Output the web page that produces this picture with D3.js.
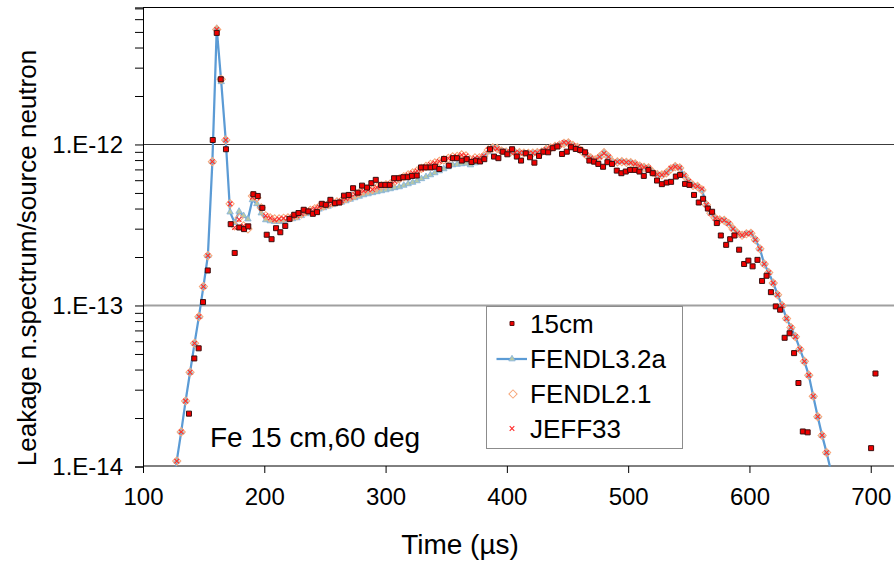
<!DOCTYPE html>
<html><head><meta charset="utf-8">
<script src="https://cdn.jsdelivr.net/npm/d3@7"></script>
<style>body{margin:0;background:#fff;} svg{display:block;font-family:"Liberation Sans",Arial,sans-serif;}</style>
</head><body><svg id="c" width="894" height="565"></svg>
<script>
// values are in units of 1e-13 (n/source neutron)
const UNIT = 1e-13;
const simTime = [124.1,127.8,131.5,135.1,138.8,142.5,146.1,149.8,153.5,157.2,
160.8,164.5,168.2,171.8,175.5,179.2,182.9,186.5,190.2,193.9,
197.5,201.2,204.9,208.5,212.2,215.9,219.5,223.2,226.9,230.6,
234.2,237.9,241.6,245.2,248.9,252.6,256.2,259.9,263.6,267.3,
270.9,274.6,278.3,281.9,285.6,289.3,292.9,296.6,300.3,303.9,
307.6,311.3,315.0,318.6,322.3,326.0,329.6,333.3,337.0,340.6,
344.3,348.0,351.7,355.3,359.0,362.7,366.3,370.0,373.7,377.3,
381.0,384.7,388.4,392.0,395.7,399.4,403.0,406.7,410.4,414.0,
417.7,421.4,425.1,428.7,432.4,436.1,439.7,443.4,447.1,450.7,
454.4,458.1,461.8,465.4,469.1,472.8,476.4,480.1,483.8,487.4,
491.1,494.8,498.5,502.1,505.8,509.5,513.1,516.8,520.5,524.1,
527.8,531.5,535.2,538.8,542.5,546.2,549.8,553.5,557.2,560.8,
564.5,568.2,571.9,575.5,579.2,582.9,586.5,590.2,593.9,597.5,
601.2,604.9,608.6,612.2,615.9,619.6,623.2,626.9,630.6,634.2,
637.9,641.6,645.3,648.9,652.6,656.3,659.9,663.6,667.3];

const fendl32a = [0.072,0.108,0.164,0.255,0.385,0.582,0.852,1.31,2.04,7.82,
52.5,24.5,10.66,3.80,3.27,3.84,3.61,3.44,4.53,4.28,
3.75,3.40,3.35,3.32,3.32,3.35,3.40,3.45,3.50,3.61,
3.71,3.79,3.88,3.96,4.04,4.13,4.22,4.31,4.37,4.46,
4.56,4.66,4.76,4.86,4.93,5.01,5.08,5.15,5.22,5.30,
5.38,5.45,5.57,5.69,5.81,5.94,6.12,6.30,6.47,6.66,
6.85,7.05,7.26,7.46,7.52,7.57,7.63,7.46,7.68,8.02,
8.37,8.98,9.52,9.45,9.11,8.98,8.98,8.91,8.89,8.85,
8.81,8.85,8.89,8.98,9.32,9.52,9.73,9.93,10.15,10.22,
9.86,9.59,9.11,8.61,8.25,8.02,8.37,8.89,8.37,7.74,
7.79,7.82,7.74,7.71,7.57,7.35,7.21,7.15,6.70,6.51,
6.47,6.66,7.05,7.29,7.15,6.42,5.90,5.57,5.49,5.22,
4.22,3.74,3.48,3.40,3.38,3.23,2.99,2.81,2.73,2.79,
2.81,2.56,2.25,1.81,1.60,1.38,1.166,0.997,0.829,0.730,
0.640,0.535,0.450,0.369,0.273,0.204,0.156,0.122,0.093];

const fendl21 = [0.072,0.108,0.164,0.255,0.385,0.582,0.852,1.31,2.04,7.82,
51.8,25.4,10.66,4.28,3.12,3.5,3.12,2.99,4.79,4.66,
4.04,3.61,3.50,3.45,3.45,3.48,3.50,3.55,3.61,3.71,
3.82,3.90,3.99,4.10,4.16,4.25,4.34,4.40,4.46,4.60,
4.70,4.84,5.01,5.15,5.22,5.26,5.41,5.53,5.61,5.69,
5.90,6.12,6.30,6.47,6.66,6.85,7.10,7.31,7.52,7.68,
7.85,8.02,8.19,8.37,8.43,8.61,8.49,8.02,8.25,8.25,
8.49,9.25,9.52,9.45,9.11,8.98,8.98,8.91,8.89,8.85,
8.81,8.85,8.89,8.98,9.32,9.52,9.73,9.93,10.15,10.22,
9.86,9.59,9.11,8.61,8.25,8.02,8.37,8.89,8.37,7.74,
7.79,7.82,7.74,7.71,7.57,7.35,7.21,7.15,6.70,6.51,
6.47,6.66,7.05,7.29,7.15,6.42,5.90,5.57,5.49,5.22,
4.22,3.74,3.48,3.40,3.38,3.23,2.99,2.81,2.73,2.79,
2.81,2.56,2.25,1.81,1.60,1.38,1.166,0.997,0.829,0.730,
0.640,0.535,0.450,0.369,0.273,0.204,0.156,0.122,0.093];

const jeff33 = [0.072,0.108,0.164,0.255,0.385,0.582,0.852,1.31,2.04,7.82,
51.8,25.4,10.66,4.28,3.05,3.42,3.12,3.05,4.70,4.66,
4.04,3.61,3.50,3.40,3.45,3.48,3.50,3.55,3.61,3.71,
3.82,3.90,3.99,4.10,4.16,4.25,4.34,4.40,4.46,4.60,
4.70,4.90,5.01,5.15,5.22,5.26,5.41,5.53,5.61,5.69,
5.90,6.12,6.30,6.47,6.66,6.85,7.02,7.31,7.52,7.68,
7.85,8.02,8.19,8.37,8.43,8.61,8.49,8.02,8.25,8.25,
8.49,9.25,9.52,9.40,9.11,8.98,8.98,8.91,8.89,8.85,
8.81,8.85,8.89,8.98,9.32,9.52,9.73,9.93,10.3,10.22,
9.86,9.59,9.11,8.61,8.25,8.02,8.37,8.80,8.37,7.74,
7.79,7.82,7.74,7.71,7.57,7.35,7.21,7.15,6.70,6.51,
6.47,6.66,7.12,7.29,7.15,6.42,5.90,5.57,5.49,5.30,
4.22,3.74,3.48,3.40,3.38,3.23,2.99,2.81,2.73,2.79,
2.81,2.56,2.25,1.81,1.60,1.38,1.166,0.997,0.829,0.730,
0.640,0.535,0.450,0.369,0.273,0.204,0.156,0.122,0.093];

const expTime = [137.9,142.3,145.9,149.5,153.4,157.5,160.8,164.1,168.4,172.3,
175.6,179.4,183.3,186.8,191.0,194.6,198.4,202.0,206.0,209.7,
213.2,217.3,220.8,224.7,228.2,232.5,236.3,240.0,243.5,247.4,
250.7,254.5,258.3,261.9,265.7,269.6,273.2,277.0,280.6,284.7,
288.3,291.9,296.3,299.8,303.4,307.0,310.9,314.6,318.3,321.8,
325.7,329.2,333.1,337.2,340.8,344.3,348.2,352.1,355.6,358.9,
362.8,366.9,370.9,374.6,377.9,381.4,386.1,389.4,393.0,396.6,
400.4,404.3,408.2,411.7,415.6,419.1,422.7,426.5,430.1,434.0,
437.8,441.6,445.5,449.4,452.9,456.8,460.4,464.5,468.0,471.9,
475.4,479.3,482.9,486.7,490.6,494.4,498.0,501.6,505.5,509.3,
512.9,516.7,520.3,523.8,527.8,531.8,535.4,539.3,542.8,546.9,
550.5,554.3,558.2,561.8,565.7,569.2,573.1,576.4,580.8,584.1,
587.6,591.5,595.6,599.1,602.6,606.6,610.4,614.1,617.7,621.7,
625.3,629.0,633.1,636.8,640.4,644.0,648.0,700.3,703.9];

const expValue = [0.213,0.469,0.542,1.05,1.65,10.66,49.3,25.4,9.34,3.20,
2.12,3.05,2.98,3.10,4.91,4.79,4.04,2.75,2.58,3.02,
2.85,3.12,3.45,3.66,3.75,3.93,3.84,3.71,3.80,4.28,
4.22,4.53,4.32,4.36,4.81,4.86,5.35,5.02,5.55,5.40,
5.75,6.03,5.61,5.61,5.61,6.17,6.17,6.26,6.26,6.38,
6.41,7.20,7.20,7.20,7.27,7.04,8.13,7.39,8.22,8.22,
7.94,8.10,7.79,7.94,7.84,8.10,9.34,8.41,8.22,9.02,
8.69,9.34,8.41,7.94,8.81,8.33,7.71,8.49,9.02,8.94,
9.48,9.71,8.73,9.02,9.61,9.38,9.25,8.94,7.94,7.82,
7.57,7.27,7.76,7.57,6.88,6.63,6.79,6.95,6.95,6.79,
6.38,6.95,6.63,5.97,5.67,5.80,5.86,6.32,6.47,5.69,
5.61,4.86,4.36,4.60,4.00,3.82,3.25,2.72,2.38,2.58,
2.72,2.22,1.81,1.90,1.75,1.92,1.42,1.53,1.21,0.987,
0.942,0.630,0.672,0.506,0.330,0.165,0.163,0.130,0.378];

const xTicks = [100,200,300,400,500,600,700];
const yMajorTicks = [1e-14,1e-13,1e-12];
const yMajorLabels = ["1.E-14","1.E-13","1.E-12"];
const legendLabels = ["15cm","FENDL3.2a","FENDL2.1","JEFF33"];
const annotation = "Fe 15 cm,60 deg";
const xTitle = "Time (\u00b5s)";
const yTitle = "Leakage n.spectrum/source neutron";

const svg = d3.select("#c");
const L = 143, R = 895, T = 7.4, B = 466.5;
const x = d3.scaleLinear().domain([100, 720]).range([L, R]);
const y = d3.scaleLog().domain([1e-14, 7.1e-12]).range([B, T]);

svg.append("defs").append("clipPath").attr("id","plot")
  .append("rect").attr("x",L).attr("y",T).attr("width",R-L).attr("height",B-T);

// gridlines
svg.append("line").attr("x1",L).attr("x2",R).attr("y1",Math.round(y(1e-12))+0.5).attr("y2",Math.round(y(1e-12))+0.5)
  .attr("stroke","#3c3c3c").attr("stroke-width",1);
svg.append("line").attr("x1",L).attr("x2",R).attr("y1",Math.round(y(1e-13))+0.5).attr("y2",Math.round(y(1e-13))+0.5)
  .attr("stroke","#a0a0a0").attr("stroke-width",2);

// top border
svg.append("line").attr("x1",L).attr("x2",R).attr("y1",7.5).attr("y2",7.5).attr("stroke","#000").attr("stroke-width",1);

// axes
const yTickVals = [];
[-14,-13,-12].forEach(e => { for (let m=1;m<=9;m++){ const v=m*Math.pow(10,e); if (v<=7.1e-12*1.0001) yTickVals.push(v);} });
const majorLabel = v => { const i = yMajorTicks.findIndex(t => Math.abs(t-v)/t < 1e-6); return i>=0 ? yMajorLabels[i] : ""; };
const gy = svg.append("g").attr("transform",`translate(${L},0)`)
  .call(d3.axisLeft(y).tickValues(yTickVals).tickSize(8).tickPadding(12).tickFormat(majorLabel));
gy.selectAll("text").attr("font-size",24).attr("fill","#000").attr("font-family","Liberation Sans, Arial, sans-serif");
gy.selectAll("line").attr("stroke","#000");
gy.select(".domain").attr("stroke","#000");

const gx = svg.append("g").attr("transform",`translate(0,${B-0.5})`)
  .call(d3.axisBottom(x).tickValues(xTicks).tickSize(7).tickPadding(14.5).tickFormat(d3.format("d")));
gx.selectAll("text").attr("font-size",24).attr("fill","#000").attr("font-family","Liberation Sans, Arial, sans-serif");
gx.selectAll("line").attr("stroke","#000");
gx.select(".domain").attr("stroke","#000").attr("d",`M${L},0H${R}`);

// marks
const plot = svg.append("g").attr("clip-path","url(#plot)");
const sim = (arr) => simTime.map((t,i) => ({t, v: arr[i]*UNIT}));
const d32 = sim(fendl32a), d21 = sim(fendl21), dj = sim(jeff33);
const expData = expTime.map((t,i) => ({t, v: expValue[i]*UNIT}));

const line = d3.line().x(d => x(d.t)).y(d => y(d.v));
plot.append("path").datum(d32).attr("d",line).attr("fill","none")
  .attr("stroke","#5b9bd5").attr("stroke-width",2.25).attr("stroke-linejoin","round");

const tri = d3.symbol().type(d3.symbolTriangle).size(18);
plot.append("g").selectAll("path").data(d32).join("path")
  .attr("d",tri).attr("transform",d=>`translate(${x(d.t)},${y(d.v)})`)
  .attr("fill","#b9c9a4").attr("stroke","#7fb0de").attr("stroke-width",0.8);

const dia = d3.symbol().type(d3.symbolSquare).size(34);
plot.append("g").selectAll("path").data(d21).join("path")
  .attr("d",dia).attr("transform",d=>`translate(${x(d.t)},${y(d.v)}) rotate(45)`)
  .attr("fill","none").attr("stroke","#f7a77a").attr("stroke-width",1);

const xMark = (r) => { const p = d3.path(); p.moveTo(-r,-r); p.lineTo(r,r); p.moveTo(r,-r); p.lineTo(-r,r); return p.toString(); };
plot.append("g").selectAll("path").data(dj).join("path")
  .attr("d",xMark(2.3)).attr("transform",d=>`translate(${x(d.t)},${y(d.v)})`)
  .attr("fill","none").attr("stroke","#ff2a2a").attr("stroke-width",1.1);

const sq = d3.symbol().type(d3.symbolSquare).size(25);
plot.append("g").selectAll("path").data(expData).join("path")
  .attr("d",sq).attr("transform",d=>`translate(${x(d.t)},${y(d.v)})`)
  .attr("fill","#f00000").attr("stroke","#3a1010").attr("stroke-width",1);

// legend
const lg = svg.append("g");
lg.append("rect").attr("x",486.5).attr("y",306.5).attr("width",196).attr("height",142)
  .attr("fill","#fff").attr("stroke","#8c8c8c").attr("stroke-width",1);
const rows = [323.5, 359, 394, 428.5];
const symX = 512;
lg.append("path").attr("d",d3.symbol().type(d3.symbolSquare).size(16)).attr("transform",`translate(${symX},${rows[0]})`)
  .attr("fill","#f00000").attr("stroke","#5a1010").attr("stroke-width",1);
lg.append("line").attr("x1",496.5).attr("x2",527).attr("y1",rows[1]).attr("y2",rows[1]).attr("stroke","#5b9bd5").attr("stroke-width",2.25);
lg.append("path").attr("d",tri).attr("transform",`translate(${symX},${rows[1]})`)
  .attr("fill","#b9c9a4").attr("stroke","#7fb0de").attr("stroke-width",0.8);
lg.append("path").attr("d",dia).attr("transform",`translate(${symX+1},${rows[2]}) rotate(45)`)
  .attr("fill","none").attr("stroke","#f7a77a").attr("stroke-width",1);
lg.append("path").attr("d",xMark(2.3)).attr("transform",`translate(${symX},${rows[3]})`)
  .attr("fill","none").attr("stroke","#ff2a2a").attr("stroke-width",1.1);
legendLabels.forEach((s,i) => {
  lg.append("text").attr("x",530).attr("y",rows[i]+9.3).attr("font-size",26).attr("fill","#000").text(s);
});

// annotation & titles
svg.append("text").attr("x",210).attr("y",447).attr("font-size",28).attr("fill","#000").text(annotation);
svg.append("text").attr("x",460).attr("y",554).attr("text-anchor","middle").attr("font-size",28).attr("fill","#000").text(xTitle);
svg.append("text").attr("transform","translate(36,258) rotate(-90)").attr("text-anchor","middle")
  .attr("font-size",26).attr("fill","#000").text(yTitle);
</script></body></html>
